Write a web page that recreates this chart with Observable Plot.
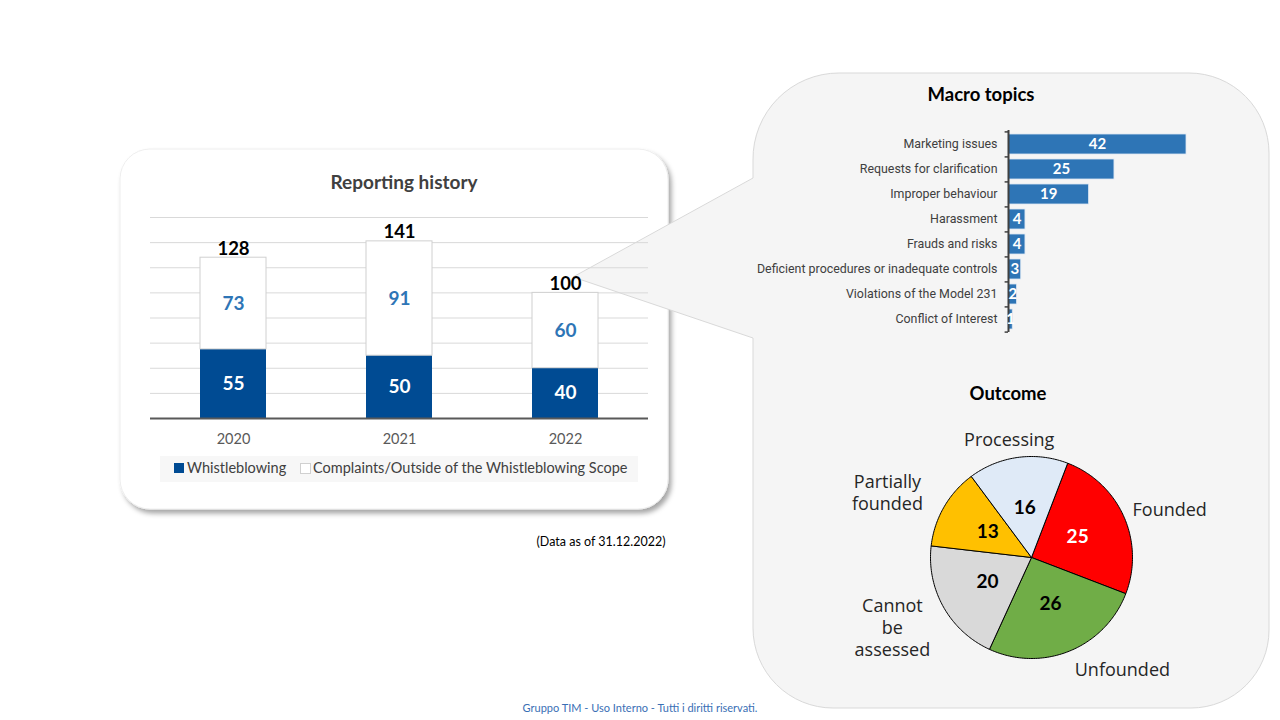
<!DOCTYPE html>
<html><head><meta charset="utf-8">
<script src="https://cdn.jsdelivr.net/npm/d3@7"></script>
<script src="https://cdn.jsdelivr.net/npm/@observablehq/plot@0.6"></script>
<style>
body{margin:0;width:1280px;height:720px;position:relative;background:#fff;overflow:hidden;font-family:Lato,sans-serif}
.abs{position:absolute}
.ctr{position:absolute;transform:translate(-50%,-50%);white-space:nowrap}
</style></head><body>
<svg class="abs" style="left:0;top:0" width="1280" height="720">
  <defs>
    <filter id="sh" x="-10%" y="-10%" width="120%" height="130%">
      <feDropShadow dx="3" dy="4" stdDeviation="2.5" flood-color="#000" flood-opacity="0.35"/>
    </filter>
  </defs>
  <rect x="120" y="149" width="548" height="360" rx="30" ry="30" fill="#fff" stroke="#eeeeee" filter="url(#sh)"/>
  <path d="M753,160 A86,86 0 0 1 839,73 L1189,73 A80,80 0 0 1 1269,153 L1269,630 A78,78 0 0 1 1191,708 L833,708 A80,80 0 0 1 753,628 L753,338 L573,277 L753,178 Z" fill="#f5f5f5" stroke="#d9d9d9" stroke-width="1"/>
</svg>

<div class="ctr" style="left:404px;top:181px;font-weight:bold;font-size:19px;color:#404040">Reporting history</div>
<div id="bars" class="abs" style="left:120px;top:200px;width:548px"></div>
<div class="abs" style="left:160px;top:456px;width:478px;height:26px;background:#f7f7f7"></div>
<div class="abs" style="left:174px;top:463px;width:10px;height:10px;background:#004b93"></div>
<div class="abs" style="left:187px;top:459px;font-size:14.5px;color:#404040">Whistleblowing</div>
<div class="abs" style="left:300px;top:463px;width:9px;height:9px;background:#fff;border:1px solid #d0d0d0"></div>
<div class="abs" style="left:313px;top:459px;font-size:14.5px;color:#404040">Complaints/Outside of the Whistleblowing Scope</div>
<div class="ctr" style="left:601px;top:541px;font-size:12.5px;color:#000">(Data as of 31.12.2022)</div>

<div class="ctr" style="left:981px;top:94px;font-weight:bold;font-size:18.5px;color:#000">Macro topics</div>
<div id="topics" class="abs" style="left:750px;top:120px;width:480px"></div>

<div class="ctr" style="left:1008px;top:393px;font-weight:bold;font-size:18.5px;color:#000">Outcome</div>
<div id="pie" class="abs" style="left:830px;top:410px;width:400px"></div>

<div class="ctr" style="left:640px;top:707px;font-size:11px;color:#3a6fb5">Gruppo TIM - Uso Interno - Tutti i diritti riservati.</div>

<script>
// ---- Reporting history ----
const years = ["2020", "2021", "2022"];
const whistleblowing = [55, 50, 40];
const complaints = [73, 91, 60];
const totals = [128, 141, 100];
const yTicks = [0, 20, 40, 60, 80, 100, 120, 140, 160];

// ---- Macro topics ----
const topics = ["Marketing issues", "Requests for clarification", "Improper behaviour", "Harassment",
  "Frauds and risks", "Deficient procedures or inadequate controls", "Violations of the Model 231", "Conflict of Interest"];
const topicCounts = [42, 25, 19, 4, 4, 3, 2, 1];

// ---- Outcome ----
const outcomes = ["Founded", "Unfounded", "Cannot be assessed", "Partially founded", "Processing"];
const outcomeCounts = [25, 26, 20, 13, 16];
const outcomeLabels = ["Founded", "Unfounded", "Cannot\nbe\nassessed", "Partially\nfounded", "Processing"];
const outcomeColors = ["#ff0000", "#70ad47", "#d9d9d9", "#ffc000", "#dfeaf7"];

const idx = years.map((_, i) => i);
const barsPlot = Plot.plot({
  width: 548, height: 250,
  marginLeft: 30, marginRight: 20, marginTop: 17, marginBottom: 32,
  style: {background: "transparent", fontFamily: "Lato, sans-serif", fontSize: "14.5px", color: "#595959", overflow: "visible"},
  x: {domain: years, paddingInner: 0.6, paddingOuter: 0.3, tickSize: 0, tickPadding: 15, label: null},
  y: {domain: [0, 160], axis: null},
  marks: [
    Plot.ruleY(yTicks.slice(1), {stroke: "#d9d9d9", strokeWidth: 1}),
    Plot.barY(idx, {x: i => years[i], y1: 0, y2: i => whistleblowing[i], fill: "#004b93"}),
    Plot.barY(idx, {x: i => years[i], y1: i => whistleblowing[i], y2: i => whistleblowing[i] + complaints[i], fill: "#fff", stroke: "#d0d0d0", strokeWidth: 1}),
    Plot.ruleY([0], {stroke: "#595959", strokeWidth: 2}),
    Plot.text(idx, {x: i => years[i], y: i => whistleblowing[i] / 2, text: i => String(whistleblowing[i]), fill: "#fff", fontWeight: "bold", fontSize: 19}),
    Plot.text(idx, {x: i => years[i], y: i => whistleblowing[i] + complaints[i] / 2, text: i => String(complaints[i]), fill: "#2e75b6", fontWeight: "bold", fontSize: 19}),
    Plot.text(idx, {x: i => years[i], y: i => totals[i], text: i => String(totals[i]), dy: -9, fill: "#000", fontWeight: "bold", fontSize: 18.5})
  ]
});
document.getElementById("bars").appendChild(barsPlot);

const tIdx = topics.map((_, i) => i);
const topicsPlot = Plot.plot({
  width: 480, height: 225,
  marginLeft: 258, marginRight: 44, marginTop: 10, marginBottom: 13,
  style: {background: "transparent", fontFamily: "Roboto, sans-serif", fontSize: "12.4px", color: "#404040", overflow: "visible"},
  x: {domain: [0, 42], axis: null},
  y: {domain: topics, paddingInner: 0.2, paddingOuter: 0.1, tickSize: 0, tickPadding: 11, label: null},
  marks: [
    Plot.barX(tIdx, {y: i => topics[i], x1: 0, x2: i => topicCounts[i], fill: "#2e75b6", stroke: "#dbe7f3", strokeWidth: 0.8}),
    Plot.ruleX([0], {stroke: "#404040", strokeWidth: 2}),
    Plot.ruleY(topics, {y: d => d, x1: -0.8, x2: 0, dy: -12.6, stroke: "#404040", strokeWidth: 1.5}),
    Plot.ruleY(topics.slice(-1), {y: d => d, x1: -0.8, x2: 0, dy: 12.6, stroke: "#404040", strokeWidth: 1.5}),
    Plot.text(tIdx, {y: i => topics[i], x: i => topicCounts[i] / 2, text: i => String(topicCounts[i]), fill: "#fff", fontWeight: "bold", fontSize: 15, fontFamily: "Lato, sans-serif"})
  ]
});
document.getElementById("topics").appendChild(topicsPlot);

// pie geometry from data
const R = 101;
const startAngle = 21 * Math.PI / 180;
const arcs = d3.pie().sort(null).startAngle(startAngle).endAngle(startAngle + 2 * Math.PI)(outcomeCounts);
const piePts = [];
arcs.forEach((a, i) => {
  piePts.push({name: outcomes[i], x: 0, y: 0});
  const n = Math.max(2, Math.ceil((a.endAngle - a.startAngle) / (Math.PI / 180)));
  for (let k = 0; k <= n; k++) {
    const t = a.startAngle + (a.endAngle - a.startAngle) * k / n;
    piePts.push({name: outcomes[i], x: R * Math.sin(t), y: -R * Math.cos(t)});
  }
  piePts.push({name: outcomes[i], x: 0, y: 0});
});
const slices = arcs.map((a, i) => {
  const mid = (a.startAngle + a.endAngle) / 2;
  const s = Math.sin(mid), c = Math.cos(mid);
  const lines = outcomeLabels[i].split("\n");
  const hw = d3.max(lines, l => l.length) * 4.8;
  const hh = lines.length * 22 / 2;
  const kx = Math.abs(s) > 0.3 ? Math.sign(s) : s;
  const pad = 8;
  return {
    name: outcomes[i], value: outcomeCounts[i], label: outcomeLabels[i],
    vx: 0.5 * R * s, vy: -0.5 * R * c,
    lx: (R + pad) * s + kx * hw * 1.15, ly: -(R + pad) * c - c * hh
  };
});
const piePlot = Plot.plot({
  width: 400, height: 270, margin: 0,
  style: {background: "transparent", fontFamily: "Lato, sans-serif", overflow: "visible"},
  x: {domain: [-201, 199], range: [0, 400], axis: null},
  y: {domain: [-147, 123], range: [0, 270], axis: null},
  color: {domain: outcomes, range: outcomeColors},
  marks: [
    Plot.line(piePts, {x: "x", y: "y", z: "name", fill: "name", stroke: "#000", strokeWidth: 1, strokeLinejoin: "round"}),
    Plot.text(slices, {filter: d => d.name !== "Founded", x: "vx", y: "vy", text: d => String(d.value), fill: "#000", fontWeight: "bold", fontSize: 19}),
    Plot.text(slices, {filter: d => d.name === "Founded", x: "vx", y: "vy", text: d => String(d.value), fill: "#fff", fontWeight: "bold", fontSize: 19}),
    Plot.text(slices, {x: "lx", y: "ly", text: "label", fill: "#262626", fontSize: 18, lineHeight: 1.22, fontFamily: "'Open Sans', sans-serif"})
  ]
});
document.getElementById("pie").appendChild(piePlot);
</script>
</body></html>
